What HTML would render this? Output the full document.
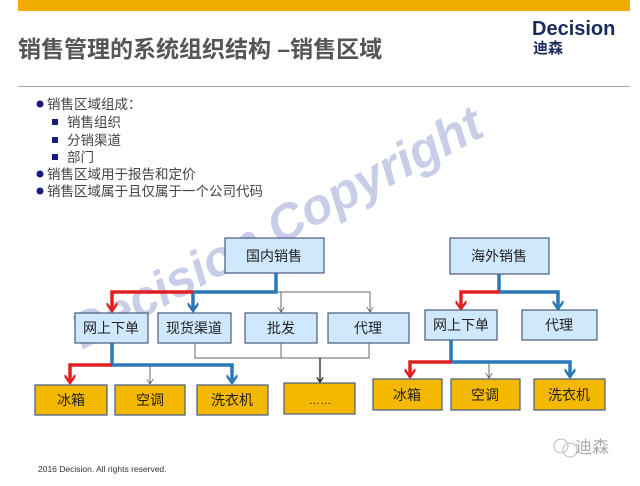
<!DOCTYPE html>
<html><head><meta charset="utf-8"><style>
body{margin:0;background:#fff;}
svg text{font-family:"Liberation Sans","Noto Sans CJK SC",sans-serif;}
</style></head><body>
<svg width="640" height="481" viewBox="0 0 640 481" xmlns="http://www.w3.org/2000/svg">
<defs>
<marker id="ar" viewBox="0 0 10 10" refX="8" refY="5" markerWidth="3.2" markerHeight="3.2" orient="auto" markerUnits="strokeWidth"><path d="M1,0 L8,5 L1,10" fill="none" stroke="#e02020" stroke-width="2.2"/></marker>
<marker id="ab" viewBox="0 0 10 10" refX="8" refY="5" markerWidth="3.2" markerHeight="3.2" orient="auto" markerUnits="strokeWidth"><path d="M1,0 L8,5 L1,10" fill="none" stroke="#2a78b8" stroke-width="2.2"/></marker>
<marker id="ag" viewBox="0 0 10 10" refX="9" refY="5" markerWidth="8" markerHeight="8" orient="auto"><path d="M3,1 L9,5 L3,9" fill="none" stroke="#555" stroke-width="1"/></marker>
<marker id="ak" viewBox="0 0 10 10" refX="9" refY="5" markerWidth="6" markerHeight="6" orient="auto"><path d="M3,1 L9,5 L3,9" fill="none" stroke="#222" stroke-width="1.6"/></marker>
</defs>
<rect x="18" y="0" width="612" height="11" fill="#f0ac00"/>
<text x="18" y="57" font-size="23" font-weight="bold" fill="#555">销售管理的系统组织结构 –销售区域</text>
<text x="532" y="35" font-size="20" font-weight="bold" fill="#1a2a5a">Decision</text>
<text x="533" y="53" font-size="15" font-weight="bold" fill="#1a2a5a">迪森</text>
<line x1="18" y1="86.5" x2="630" y2="86.5" stroke="#aaa" stroke-width="1"/>
<g font-size="13.5" fill="#444">
<circle cx="40" cy="104" r="3.5" fill="#1a1a80"/><text x="47" y="109">销售区域组成：</text>
<rect x="52" y="119" width="6" height="6" fill="#1a1a80"/><text x="67" y="127">销售组织</text>
<rect x="52" y="137" width="6" height="6" fill="#1a1a80"/><text x="67" y="145">分销渠道</text>
<rect x="52" y="154" width="6" height="6" fill="#1a1a80"/><text x="67" y="162">部门</text>
<circle cx="40" cy="174" r="3.5" fill="#1a1a80"/><text x="47" y="179">销售区域用于报告和定价</text>
<circle cx="40" cy="191" r="3.5" fill="#1a1a80"/><text x="47" y="196">销售区域属于且仅属于一个公司代码</text>
</g>
<text x="0" y="0" font-size="50" font-weight="bold" font-style="italic" fill="#b8bce0" fill-opacity="0.75" transform="translate(82,350) rotate(-28)">Decision Copyright</text>
<g fill="none" stroke="#666" stroke-width="1">
<path d="M276 292 H370 V312" marker-end="url(#ag)"/>
<path d="M281 292 V312" marker-end="url(#ag)"/>
<path d="M195 343 V358 H369 V343"/>
<path d="M281 343 V358"/>
<path d="M150 365 V384" marker-end="url(#ag)"/>
<path d="M489 362 V378" marker-end="url(#ag)"/>
</g>
<path d="M320 358 V382" fill="none" stroke="#222" stroke-width="1.3" marker-end="url(#ak)"/>
<g fill="none" stroke-width="3.5">
<path d="M276 273 V292 H193 V311" stroke="#2a78b8" marker-end="url(#ab)"/>
<path d="M193 292 H112 V311" stroke="#e02020" marker-end="url(#ar)"/>
<path d="M112 343 V365 H232 V383" stroke="#2a78b8" marker-end="url(#ab)"/>
<path d="M112 365 H70 V383" stroke="#e02020" marker-end="url(#ar)"/>
<path d="M499 274 V292 H558 V309" stroke="#2a78b8" marker-end="url(#ab)"/>
<path d="M499 292 H461 V309" stroke="#e02020" marker-end="url(#ar)"/>
<path d="M451 340 V362 H570 V377" stroke="#2a78b8" marker-end="url(#ab)"/>
<path d="M451 362 H410 V377" stroke="#e02020" marker-end="url(#ar)"/>
</g>
<g stroke="#4a5a80" stroke-width="1.2" font-size="14" text-anchor="middle">
<g fill="#cfe8fb">
<rect x="225" y="238" width="99" height="35"/><rect x="450" y="238" width="99" height="36"/>
<rect x="75" y="313" width="73" height="30"/><rect x="158" y="313" width="73" height="30"/>
<rect x="245" y="313" width="72" height="30"/><rect x="328" y="313" width="81" height="30"/>
<rect x="425" y="310" width="72" height="30"/><rect x="522" y="310" width="75" height="30"/>
</g>
<g fill="#f5b800">
<rect x="35" y="385" width="72" height="30"/><rect x="115" y="385" width="70" height="30"/>
<rect x="197" y="385" width="71" height="30"/><rect x="284" y="383" width="71" height="31"/>
<rect x="373" y="379" width="69" height="31"/><rect x="451" y="379" width="69" height="31"/>
<rect x="534" y="379" width="71" height="31"/>
</g>
<g stroke="none" fill="#222">
<text x="274" y="261">国内销售</text><text x="499" y="261">海外销售</text>
<text x="111" y="333">网上下单</text><text x="194" y="333">现货渠道</text>
<text x="281" y="333">批发</text><text x="368" y="333">代理</text>
<text x="461" y="330">网上下单</text><text x="559" y="330">代理</text>
<text x="71" y="405">冰箱</text><text x="150" y="405">空调</text><text x="232" y="405">洗衣机</text>
<text x="320" y="404" font-size="11">……</text>
<text x="407" y="400">冰箱</text><text x="485" y="400">空调</text><text x="569" y="400">洗衣机</text>
</g>
</g>
<text x="38" y="472" font-size="8.5" fill="#333">2016 Decision. All rights reserved.</text>
<circle cx="561" cy="446" r="7" fill="none" stroke="#bbb"/><circle cx="570" cy="450" r="7" fill="none" stroke="#bbb"/>
<text x="575" y="453" font-size="17" fill="#aaa">迪森</text>
</svg>
</body></html>
